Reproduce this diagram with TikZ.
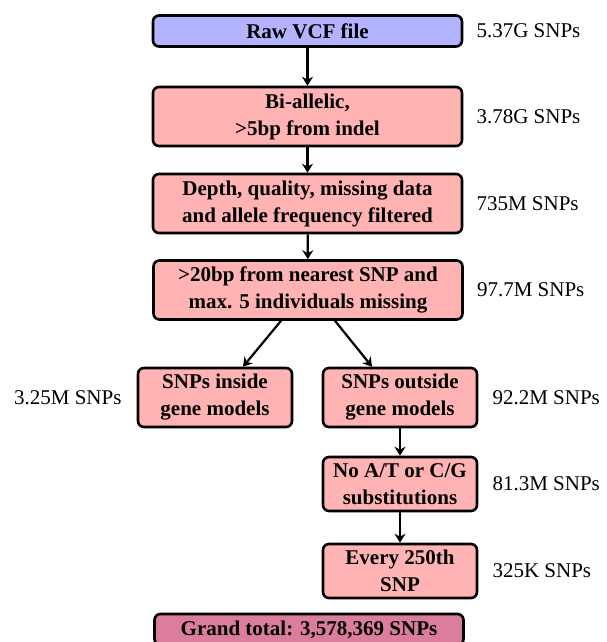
\documentclass[tikz,border=0pt]{standalone}
\usepackage{fontspec}
\setmainfont{Liberation Serif}
\usetikzlibrary{arrows.meta}
\definecolor{RawBlue}{HTML}{B3B3FF}
\definecolor{FilterPink}{HTML}{FFB3B3}
\definecolor{TotalRose}{HTML}{DB7E9C}

\tikzset{
  stepbox/.style={draw, line width=2.6pt, rounded corners=6pt, fill=FilterPink,
    align=center, inner sep=0pt, font=\fontsize{21}{27}\selectfont\bfseries},
  widebox/.style={stepbox, minimum width=309pt, minimum height=59pt},
  smallbox/.style={stepbox, minimum width=154pt, minimum height=59pt},
  snpcount/.style={inner sep=0pt, font=\fontsize{21}{27}\selectfont},
  flow/.style={-{Stealth[length=9pt,width=11pt,inset=3pt]}, line width=2.2pt},
}

\begin{document}
\begin{tikzpicture}[x=1pt, y=-1pt]
  \useasboundingbox (0,0) rectangle (606,642);

  % Main filtering chain
  \node[widebox, fill=RawBlue, minimum height=31pt] (raw) at (307.5,31) {Raw VCF file};
  \node[widebox] (biallelic) at (307.5,116.5) {Bi-allelic,\\>5bp from indel};
  \node[widebox] (quality) at (307.5,203.5) {Depth, quality, missing data\\and allele frequency filtered};
  \node[widebox] (spacing) at (308,290) {>20bp from nearest SNP and\\max. 5 individuals missing};

  % Split by gene models
  \node[smallbox] (inside) at (215,397.5) {SNPs inside\\gene models};
  \node[smallbox] (outside) at (400,397.5) {SNPs outside\\gene models};
  \node[smallbox, minimum height=54pt] (noat) at (400,484) {No A/T or C/G\\substitutions};
  \node[smallbox, minimum height=54pt] (thinned) at (400,571) {Every 250th\\SNP};

  \node[widebox, fill=TotalRose, minimum height=31pt] (total) at (309,629.5) {Grand total: 3,578,369 SNPs};

  % Counts beside each step
  \node[snpcount, anchor=west] (nraw) at ([xshift=13pt]raw.east) {5.37G SNPs};
  \node[snpcount, anchor=west] (nbiallelic) at ([xshift=13pt]biallelic.east) {3.78G SNPs};
  \node[snpcount, anchor=west] (nquality) at ([xshift=13pt]quality.east) {735M SNPs};
  \node[snpcount, anchor=west] (nspacing) at ([xshift=13pt]spacing.east) {97.7M SNPs};
  \node[snpcount, anchor=east] (ninside) at ([xshift=-15pt]inside.west) {3.25M SNPs};
  \node[snpcount, anchor=west] (noutside) at ([xshift=14pt]outside.east) {92.2M SNPs};
  \node[snpcount, anchor=west] (nnoat) at ([xshift=14pt]noat.east) {81.3M SNPs};
  \node[snpcount, anchor=west] (nthinned) at ([xshift=14pt]thinned.east) {325K SNPs};

  % Arrows
  \draw[flow] (raw) -- (biallelic);
  \draw[flow] (biallelic) -- (quality);
  \draw[flow] (quality) -- (spacing);
  \draw[flow] ([xshift=-27pt]spacing.south) -- ([xshift=28pt]inside.north);
  \draw[flow] ([xshift=27pt]spacing.south) -- ([xshift=-28pt]outside.north);
  \draw[flow] (outside) -- (noat);
  \draw[flow] (noat) -- (thinned);
\end{tikzpicture}
\end{document}
